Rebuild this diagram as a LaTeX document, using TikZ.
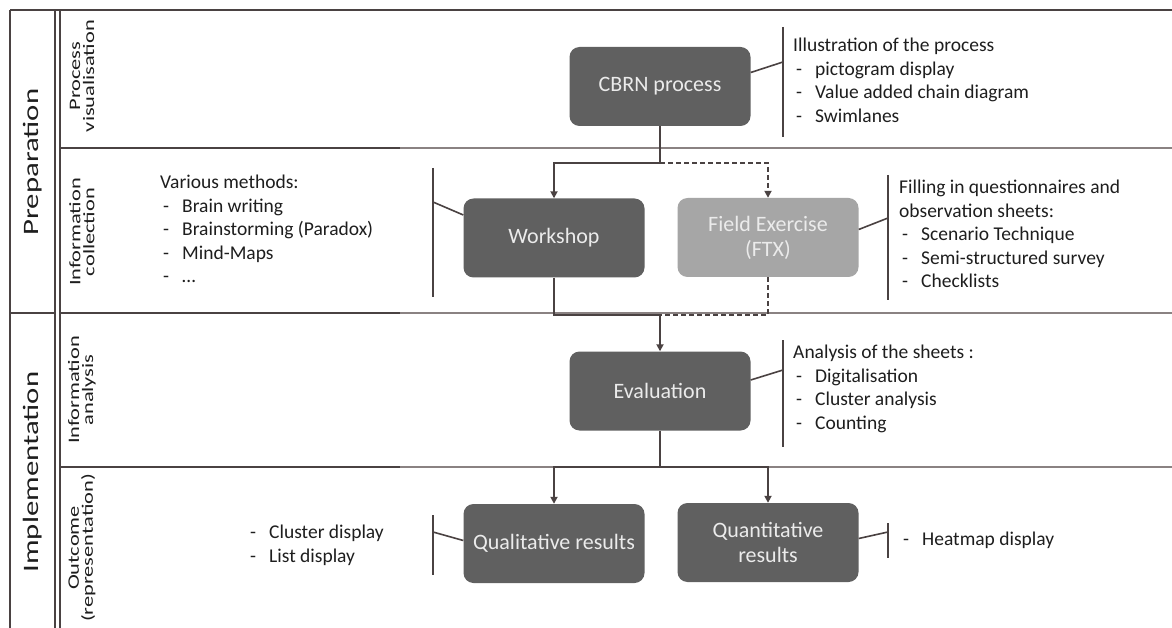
\documentclass[tikz,border=0pt]{standalone}
\usepackage{fontspec}
\setmainfont{Carlito}
\newfontfamily\lblfont[FakeStretch=1.4]{Carlito}
\usetikzlibrary{arrows.meta}
\definecolor{boxdark}{HTML}{606060}
\definecolor{boxlight}{HTML}{A6A6A6}
\definecolor{boxtxt}{HTML}{EBEBEB}
\definecolor{linec}{HTML}{4A4242}
\definecolor{sepc}{HTML}{8A8282}
\definecolor{txtc}{HTML}{1E1E1E}
\newcommand{\itm}[1]{\makebox[22pt][l]{\hspace{3pt}-}#1}
\begin{document}
\begin{tikzpicture}[x=1pt,y=-1pt,
  box/.style={fill=boxdark, rounded corners=10pt, minimum width=181pt, minimum height=79pt,
    text=boxtxt, font=\fontsize{22}{25}\selectfont, align=center, inner sep=0pt},
  lightbox/.style={box, fill=boxlight},
  frame/.style={draw=linec, line width=1.6pt},
  sep/.style={draw=sepc, line width=1.4pt},
  conn/.style={draw=linec, line width=1.8pt},
  dsh/.style={dash pattern=on 5pt off 3pt},
  arr/.style={conn, -{Triangle[length=7pt,width=7pt]}},
  brk/.style={draw=linec, line width=1.6pt},
  ann/.style={anchor=north west, inner sep=0pt, align=left, text=txtc,
    font=\fontsize{19.5}{23.5}\selectfont},
  rowlbl/.style={rotate=90, align=center, text=txtc, inner sep=0pt,
    font=\lblfont\fontsize{16}{14}\selectfont},
  grouplbl/.style={rotate=90, text=txtc, inner sep=0pt,
    font=\lblfont\fontsize{22}{24}\selectfont}
]
\useasboundingbox (0,0) rectangle (1172,628);
\fill[white] (0,0) rectangle (1172,628);

% frame
\draw[frame] (10,10) -- (1172,10);
\draw[frame] (10,10) -- (10,628);
\draw[frame] (55,10) -- (55,628);
\draw[frame] (60,10) -- (60,628);
\draw[frame] (10,313) -- (55,313);
\draw[frame] (60,148) -- (400,148);
\draw[sep] (400,148) -- (1172,148);
\draw[frame] (60,313) -- (400,313);
\draw[sep] (400,313) -- (1172,313);
\draw[frame] (60,467) -- (400,467);
\draw[sep] (400,467) -- (1172,467);

% group labels
\node[grouplbl] (prep) at (33,162) {Preparation};
\node[grouplbl] (impl) at (33,472) {Implementation};
\node[rowlbl] (r1) at (82,76) {Process\\visualisation};
\node[rowlbl] (r2) at (82,232) {Information\\collection};
\node[rowlbl] (r3) at (82,390) {Information\\analysis};
\node[rowlbl] (r4) at (82,548) {Outcome\\(representation)};

% boxes
\node[box] (cbrn) at (660,86.5) {CBRN process};
\node[box] (ws) at (554,238) {Workshop};
\node[lightbox] (ftx) at (768,237.5) {Field Exercise\\(FTX)};
\node[box] (eval) at (660,391) {Evaluation};
\node[box] (qual) at (554,543.5) {Qualitative results};
\node[box] (quant) at (768,542.5) {Quantitative\\results};

% junctions
\coordinate (j1) at (660,163);
\coordinate (j2) at (660,315);
\coordinate (j3) at (660,467);

\draw[conn] (cbrn.south) -- (j1);
\draw[arr] (j1) -| (ws.north);
\draw[arr, dsh] (j1) -| (ftx.north);
\draw[conn] (ws.south) |- (j2);
\draw[conn, dsh] (ftx.south) |- (j2);
\draw[arr] (j2) -- (eval.north);
\draw[conn] (eval.south) -- (j3);
\draw[arr] (j3) -| (qual.north);
\draw[arr] (j3) -| (quant.north);

% brackets
\coordinate (b1t) at (783,27); \coordinate (b1b) at (783,137); \coordinate (b1m) at (783,62);
\draw[brk] (b1t) -- (b1b);
\draw[brk] ([yshift=14pt]cbrn.east) -- (b1m);

\coordinate (b2t) at (433,168); \coordinate (b2b) at (433,297); \coordinate (b2m) at (433,202);
\draw[brk] (b2t) -- (b2b);
\draw[brk] ([yshift=23pt]ws.west) -- (b2m);

\coordinate (b3t) at (888,175); \coordinate (b3b) at (888,300); \coordinate (b3m) at (888,218);
\draw[brk] (b3t) -- (b3b);
\draw[brk] ([yshift=8pt]ftx.east) -- (b3m);

\coordinate (b4t) at (783,340); \coordinate (b4b) at (783,447); \coordinate (b4m) at (783,370);
\draw[brk] (b4t) -- (b4b);
\draw[brk] ([yshift=11pt]eval.east) -- (b4m);

\coordinate (b5t) at (433,515); \coordinate (b5b) at (433,575); \coordinate (b5m) at (433,532);
\draw[brk] (b5t) -- (b5b);
\draw[brk] ([yshift=3pt]qual.west) -- (b5m);

\coordinate (b6t) at (888,523); \coordinate (b6b) at (888,558); \coordinate (b6m) at (888,532);
\draw[brk] (b6t) -- (b6b);
\draw[brk] ([yshift=4pt]quant.east) -- (b6m);

% annotations
\node[ann] (a1) at (793,38) {Illustration of the process\\\itm{pictogram display}\\\itm{Value added chain diagram}\\\itm{Swimlanes}};
\node[ann] (a2) at (160,175) {Various methods:\\\itm{Brain writing}\\\itm{Brainstorming (Paradox)}\\\itm{Mind-Maps}\\\itm{\textellipsis}};
\node[ann] (a3) at (899,180) {Filling in questionnaires and\\observation sheets:\\\itm{Scenario Technique}\\\itm{Semi-structured survey}\\\itm{Checklists}};
\node[ann] (a4) at (793,345) {Analysis of the sheets :\\\itm{Digitalisation}\\\itm{Cluster analysis}\\\itm{Counting}};
\node[ann] (a5) at (247,525) {\itm{Cluster display}\\\itm{List display}};
\node[ann] (a6) at (900,532) {\itm{Heatmap display}};
\end{tikzpicture}
\end{document}
